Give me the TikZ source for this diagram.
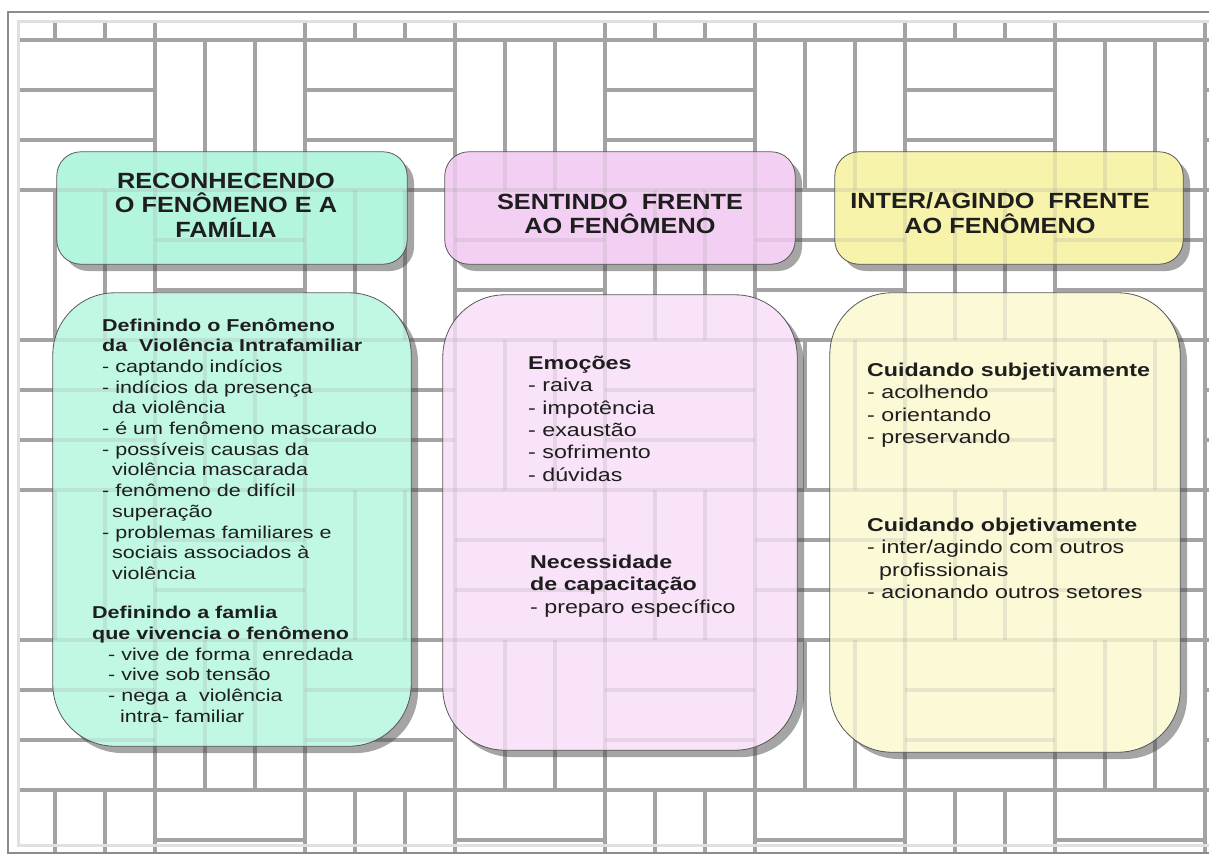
\documentclass[tikz,border=0pt]{standalone}
\usepackage{fontspec}
\setmainfont{Liberation Sans}
\newfontfamily\boxfont[FakeStretch=1.25]{Liberation Sans}
\newfontfamily\headfont[FakeStretch=1.15]{Liberation Sans}
\usetikzlibrary{shadows}

\definecolor{mintHead}{RGB}{180,245,222}
\definecolor{mintBody}{RGB}{192,248,228}
\definecolor{pinkHead}{RGB}{243,207,243}
\definecolor{pinkBody}{RGB}{249,227,249}
\definecolor{yellowHead}{RGB}{247,243,170}
\definecolor{yellowBody}{RGB}{252,250,214}
\definecolor{inkText}{RGB}{30,30,30}

% basket weave of the background
\newcommand\weavelines{%
	\foreach \i in {-1,...,8}{
		\foreach \j in {-1,...,5}{
			\pgfmathtruncatemacro\odd{mod(\i+\j+2,2)}
			\ifnum\odd=0
				\foreach \k in {0,50,100,150} \draw[weave] (5+150*\i,40+150*\j+\k) -- ++(150,0);
			\else
				\foreach \k in {0,50,100,150} \draw[weave] (5+150*\i+\k,40+150*\j) -- ++(0,150);
			\fi
		}
	}}

\tikzset{
  weave/.style={black!36, line width=4.5pt},
  boxshadow/.style={drop shadow={shadow xshift=7pt, shadow yshift=-7pt, opacity=0.5, fill=black!70}},
  outline/.style={black!65, line width=0.8pt},
  headbox/.style={boxshadow, rounded corners=24pt, minimum width=350pt, minimum height=112pt},
  bodybox/.style={boxshadow, rounded corners=62pt, minimum width=354pt, minimum height=455pt},
  title/.style={align=center, text=inkText, font=\headfont\bfseries\fontsize{22}{24.5}\selectfont},
  smalltext/.style={anchor=north west, inner sep=0pt, align=left, text=inkText,
    font=\boxfont\fontsize{17.2}{20.7}\selectfont},
  bigtext/.style={smalltext, font=\boxfont\fontsize{18.6}{22.3}\selectfont}
}

\begin{document}
\begin{tikzpicture}[x=1pt,y=-1pt]
	\useasboundingbox (0,0) rectangle (1209,855);
	\fill[white] (0,0) rectangle (1209,855);
	% woven background
	\begin{scope}
		\clip (17,20) rectangle (1209,853);
		\weavelines
	\end{scope}
	\draw[black!12, line width=3pt] (18,21) rectangle (1215,845);
	\draw[black!45, line width=2pt] (8,12) rectangle (1215,853);

	% headers
	\node[headbox, fill=mintHead] (head1) at (232,208) {};
	\node[headbox, fill=pinkHead] (head2) at (620,208) {};
	\node[headbox, fill=yellowHead, minimum width=348pt] (head3) at (1009,208) {};

	% bodies
	\node[bodybox, fill=mintBody, minimum width=358pt, minimum height=453pt] (body1) at (232,519.5) {};
	\node[bodybox, fill=pinkBody] (body2) at (620,522.5) {};
	\node[bodybox, fill=yellowBody, minimum width=350pt, minimum height=459pt] (body3) at (1005,522.5) {};

	% weave seen through the boxes
	\begin{scope}[opacity=0.22]
		\clip[rounded corners=24pt] (head1.north west) rectangle (head1.south east)
			(head2.north west) rectangle (head2.south east)
			(head3.north west) rectangle (head3.south east)
			[rounded corners=62pt] (body1.north west) rectangle (body1.south east)
			(body2.north west) rectangle (body2.south east)
			(body3.north west) rectangle (body3.south east);
		\weavelines
	\end{scope}
	\draw[outline, rounded corners=24pt] (head1.north west) rectangle (head1.south east)
		(head2.north west) rectangle (head2.south east)
		(head3.north west) rectangle (head3.south east);
	\draw[outline, rounded corners=62pt] (body1.north west) rectangle (body1.south east)
		(body2.north west) rectangle (body2.south east)
		(body3.north west) rectangle (body3.south east);

	% titles
	\node[title] (title1) at ([xshift=-6pt,yshift=3pt]head1) {RECONHECENDO\\O FENÔMENO E A\\FAMÍLIA};
	\node[title] (title2) at ([yshift=-6pt]head2) {SENTINDO\ \ FRENTE\\AO FENÔMENO};
	\node[title] (title3) at ([xshift=-9pt,yshift=-5pt]head3) {INTER/AGINDO\ \ FRENTE\\AO FENÔMENO};

	% texts of the first column
	\node[smalltext] (violencia) at (102,318) {\bfseries Definindo o Fenômeno\\
		\bfseries da\ \ Violência Intrafamiliar\\
		- captando indícios\\
		- indícios da presença\\
		\hspace*{10pt}da violência\\
		- é um fenômeno mascarado\\
		- possíveis causas da\\
		\hspace*{10pt}violência mascarada\\
		- fenômeno de difícil\\
		\hspace*{10pt}superação\\
		- problemas familiares e\\
		\hspace*{10pt}sociais associados à\\
		\hspace*{10pt}violência};
	\node[smalltext] (familia) at (92,606) {\bfseries Definindo a famlia\\
		\bfseries que vivencia o fenômeno\\
		\hspace*{16pt}- vive de forma\ \ enredada\\
		\hspace*{16pt}- vive sob tensão\\
		\hspace*{16pt}- nega a\ \ violência\\
		\hspace*{28pt}intra- familiar};

	% texts of the second column
	\node[bigtext] (emocoes) at (528,356) {\bfseries Emoções\\
		- raiva\\
		- impotência\\
		- exaustão\\
		- sofrimento\\
		- dúvidas};
	\node[bigtext] (capacitacao) at (530,555) {\bfseries Necessidade\\
		\bfseries de capacitação\\
		- preparo específico};

	% texts of the third column
	\node[bigtext] (subjetivo) at (867,363) {\bfseries Cuidando subjetivamente\\
		- acolhendo\\
		- orientando\\
		- preservando};
	\node[bigtext] (objetivo) at (867,518) {\bfseries Cuidando objetivamente\\
		- inter/agindo com outros\\
		\hspace*{12pt}profissionais\\
		- acionando outros setores};
\end{tikzpicture}
\end{document}
